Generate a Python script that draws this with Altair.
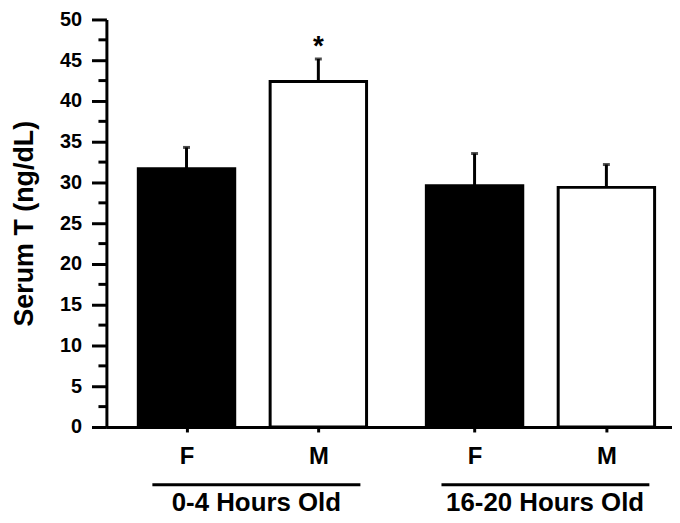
import altair as alt
import pandas as pd

# ---- data ----
categories = ["F", "M", "F", "M"]
groups = ["0-4 Hours Old", "0-4 Hours Old", "16-20 Hours Old", "16-20 Hours Old"]
x_pos = [1.0, 2.0, 3.185, 4.185]
means = [31.7, 42.4, 29.6, 29.4]
err_top = [34.3, 45.15, 33.55, 32.2]
fills = ["black", "white", "black", "white"]
marks = ["", "*", "", ""]

group_names = ["0-4 Hours Old", "16-20 Hours Old"]
group_start = [0.741, 2.934]
group_end = [2.319, 4.511]
group_center = [1.53, 3.72]

y_major = [0, 5, 10, 15, 20, 25, 30, 35, 40, 45, 50]
y_minor = [2.5, 7.5, 12.5, 17.5, 22.5, 27.5, 32.5, 37.5, 42.5, 47.5]

FONT = "Liberation Sans"

df = pd.DataFrame({"cat": categories, "grp": groups, "x": x_pos, "mean": means,
                   "err": err_top, "fill": fills, "mark": marks})
gdf = pd.DataFrame({"name": group_names, "start": group_start, "end": group_end,
                    "center": group_center})
mdf = pd.DataFrame({"v": y_minor})

xscale = alt.Scale(domain=[0.43, 4.645], nice=False, zero=False)
yscale = alt.Scale(domain=[0, 50], nice=False)

label_expr = " : ".join(
    f"abs(datum.value - {x}) < 0.01 ? '{c}'" for x, c in zip(x_pos, categories)
) + " : ''"

x_axis = alt.Axis(values=x_pos, labelExpr=label_expr, title=None,
                  grid=False, tickSize=5, tickWidth=3, tickColor="black",
                  domainWidth=3, domainColor="black",
                  labelFont=FONT, labelFontSize=24, labelFontWeight="bold",
                  labelColor="black", labelPadding=13)
y_axis = alt.Axis(values=y_major, title="Serum T (ng/dL)", grid=False,
                  tickSize=15, tickWidth=3, tickColor="black",
                  domainWidth=3, domainColor="black",
                  labelFont=FONT, labelFontSize=20, labelFontWeight="bold",
                  labelColor="black", labelPadding=10,
                  titleFont=FONT, titleFontSize=27, titleFontWeight="bold",
                  titleColor="black", titlePadding=21)

bars = alt.Chart(df).mark_bar(size=97, strokeWidth=3, stroke="black").encode(
    x=alt.X("x:Q", scale=xscale, axis=x_axis),
    y=alt.Y("mean:Q", scale=yscale, axis=y_axis),
    fill=alt.Fill("fill:N", scale=None),
)

err_rule = alt.Chart(df).mark_rule(strokeWidth=3, color="black").encode(
    x=alt.X("x:Q", scale=xscale, axis=x_axis),
    y=alt.Y("mean:Q", scale=yscale, axis=y_axis),
    y2="err:Q",
)

err_cap = alt.Chart(df).mark_tick(orient="horizontal", size=7, thickness=3,
                                  color="black").encode(
    x=alt.X("x:Q", scale=xscale, axis=x_axis),
    y=alt.Y("err:Q", scale=yscale, axis=y_axis),
)

star = alt.Chart(df).mark_text(font=FONT, fontSize=28, fontWeight="bold",
                               baseline="alphabetic", dy=-4, color="black").encode(
    x=alt.X("x:Q", scale=xscale, axis=x_axis),
    y=alt.Y("err:Q", scale=yscale, axis=y_axis),
    text="mark:N",
)

minor = alt.Chart(mdf).mark_rule(strokeWidth=3, color="black").encode(
    y=alt.Y("v:Q", scale=yscale, axis=y_axis),
    x=alt.value(-8),
    x2=alt.value(0),
)

glines = alt.Chart(gdf).mark_rule(strokeWidth=3, color="black").encode(
    x=alt.X("start:Q", scale=xscale, axis=x_axis),
    x2="end:Q",
    y=alt.value(468),
)

gtext = alt.Chart(gdf).mark_text(font=FONT, fontSize=26, fontWeight="bold",
                                 baseline="middle", align="center",
                                 color="black").encode(
    x=alt.X("center:Q", scale=xscale, axis=x_axis),
    y=alt.value(486),
    text="name:N",
)

chart = alt.layer(bars, err_rule, err_cap, star, minor, glines, gtext).properties(
    width=569, height=410,
    autosize=alt.AutoSizeParams(type="none"),
    padding={"left": 99, "top": 10, "right": 0, "bottom": 87},
).configure_view(stroke=None)

chart.save("out.html", embed_options={"renderer": "svg", "actions": False})
